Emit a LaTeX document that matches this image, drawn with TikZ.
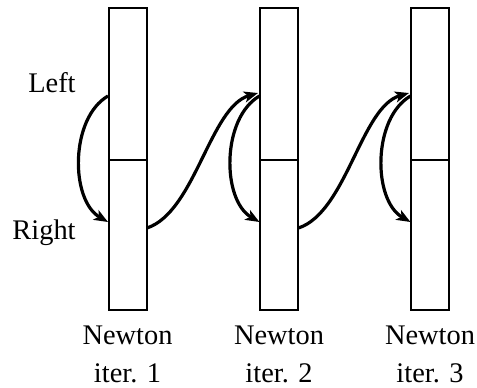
\documentclass[tikz,border=0pt]{standalone}
\usepackage{fontspec}
\setmainfont{Liberation Serif}
\usetikzlibrary{arrows.meta,calc}
\begin{document}
\begin{tikzpicture}[x=0.5pt,y=-0.5pt,
  half/.style={draw,line width=1pt,minimum width=19pt,inner sep=0pt},
  tophalf/.style={half,minimum height=76pt},
  bothalf/.style={half,minimum height=75pt},
  flow/.style={line width=1.6pt,-{Stealth[length=7pt,width=5.5pt,inset=1.8pt]}},
  lab/.style={font=\fontsize{14.2}{19}\selectfont,inner sep=0pt},
  itercap/.style={lab,align=center}]
\useasboundingbox (0,0) rectangle (477,387);
% three split columns
\foreach \i/\x in {1/127.5,2/279,3/430}{
  \node[tophalf] (t\i) at (\x,84) {};
  \node[bothalf] (b\i) at (\x,235) {};
  \coordinate (in\i) at (\x-19.5,96);
  \coordinate (out\i) at (\x-19.5,222);
  \coordinate (nx\i) at (\x+19.5,228);
  \coordinate (tip\i) at (\x-21,93);
  \node[itercap] (n\i) at (\x,354) {Newton\\iter. \i};
}
% labels
\node[lab,anchor=east] (left) at (76,83) {Left};
\node[lab,anchor=east] (right) at (76,233) {Right};
% left-to-right sweeps inside each iteration
\foreach \i in {1,2,3}{
  \draw[flow] (in\i) .. controls ($(in\i)+(-38,22)$) and ($(out\i)+(-38,-22)$) .. (out\i);
}
% hand-over to the next iteration
\foreach \i/\j in {1/2,2/3}{
  \draw[flow] (nx\i) .. controls ($(nx\i)+(48,-16)$) and ($(tip\j)+(-48,14)$) .. (tip\j);
}
\end{tikzpicture}
\end{document}
